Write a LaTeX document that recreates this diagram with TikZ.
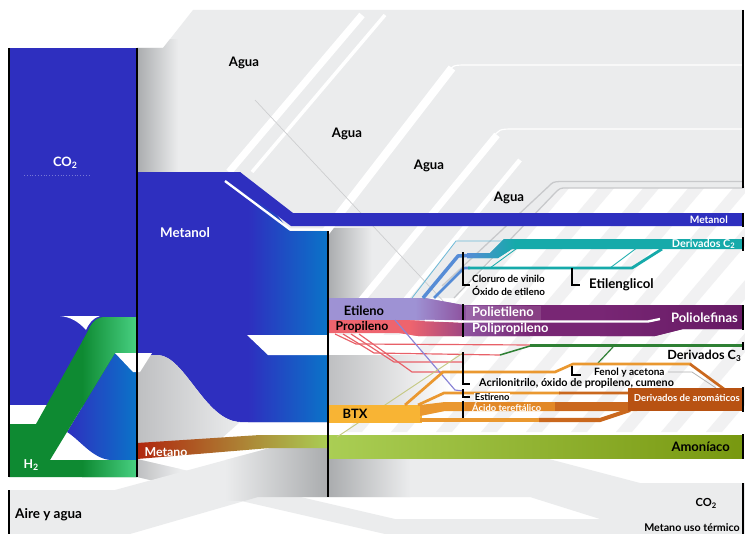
\documentclass[tikz,border=0pt]{standalone}
\usepackage{fontspec}
\setmainfont{Lato}
\definecolor{agua}{RGB}{235,236,237}
\definecolor{aguadk}{RGB}{170,172,174}
\definecolor{graymid}{RGB}{190,191,193}
\definecolor{faint}{RGB}{241,241,242}
\definecolor{dline}{RGB}{200,201,203}
\definecolor{thinline}{RGB}{205,206,208}
\definecolor{metblue}{RGB}{46,47,191}
\definecolor{metlight}{RGB}{10,116,200}
\definecolor{h2dk}{RGB}{14,138,50}
\definecolor{h2lt}{RGB}{72,208,130}
\definecolor{etil}{RGB}{158,146,212}
\definecolor{prop}{RGB}{238,100,110}
\definecolor{propend}{RGB}{160,70,130}
\definecolor{poli}{RGB}{120,38,116}
\definecolor{polidk}{RGB}{102,26,100}
\definecolor{polimid}{RGB}{142,84,160}
\definecolor{btx}{RGB}{248,180,52}
\definecolor{arom}{RGB}{184,82,18}
\definecolor{aromm}{RGB}{202,104,30}
\definecolor{aromlt}{RGB}{234,152,48}
\definecolor{acidbox}{RGB}{226,136,38}
\definecolor{amon}{RGB}{170,206,84}
\definecolor{amondk}{RGB}{120,152,16}
\definecolor{ctwoteal}{RGB}{22,170,170}
\definecolor{ctwoblue}{RGB}{86,140,214}
\definecolor{ctwothin}{RGB}{110,185,215}
\definecolor{cthree}{RGB}{46,128,52}
\definecolor{metred}{RGB}{176,38,14}
\definecolor{metmid}{RGB}{184,148,60}
\definecolor{redline}{RGB}{232,96,104}
\definecolor{lavline}{RGB}{138,132,214}
\definecolor{oliveline}{RGB}{196,200,128}

\newcommand{\fsz}[1]{\fontsize{#1}{#1}\selectfont\bfseries}
\newcommand{\lowidx}[2]{\raisebox{-0.35ex}{\fontsize{#1}{#1}\selectfont #2}}

\begin{document}
\begin{tikzpicture}[x=0.03cm,y=-0.03cm,
  bar/.style={line width=2pt,black},
  bracket/.style={line width=1.4pt,black},
  tx/.style={inner sep=0pt,text=black},
  wtx/.style={inner sep=0pt,text=white}]
\useasboundingbox (0,0) rectangle (745,534);
\fill[white] (0,0) rectangle (745,534);

% ---------- faint diagonal texture behind the product lines
\begin{scope}
  \clip (328,186) rectangle (745,432);
  \foreach \x in {330,375,...,960}
    \fill[faint] (\x,186) -- (\x+16,186) -- (\x-193,432) -- (\x-209,432) -- cycle;
\end{scope}

% ---------- water streams (upper grey field)
\def\aguapath{(137,48) -- (163,48) -- (193,10) -- (743,10) -- (743,188) -- (567,188) .. controls (560,188) .. (555,193) -- (454,298) -- (328,298) -- (328,231) -- (137,231) -- cycle}
\fill[agua] \aguapath;
\begin{scope}
  \clip \aguapath;
  \shade[left color=aguadk,right color=agua] (137,40) rectangle (178,235);
  \shade[left color=aguadk,right color=agua] (328,228) rectangle (372,300);
  \draw[white,line width=6pt] (229,172) -- (362,15);
  \draw[white,line width=3pt] (252,172) -- (385,15);
  \draw[white,line width=7pt] (300,265) -- (452,68);
  \draw[white,line width=1pt] (447,73) .. controls (453,65) .. (468,65) -- (745,65);
  \draw[white,line width=6pt] (360,302) -- (497,135);
  \draw[white,line width=1pt] (492,139) .. controls (499,129) .. (515,129) -- (745,129);
  \draw[white,line width=4pt] (405,300) -- (520,160);
\end{scope}
\draw[dline,line width=1.1pt] (442,286) -- (549,186) .. controls (553,182) .. (560,181.5) -- (743,181.5);
\draw[dline,line width=1.1pt] (454,298) -- (555,193) .. controls (560,188) .. (567,188) -- (743,188);
\draw[thinline,line width=0.6pt] (255,100) -- (475,335);

% ---------- lower grey streams
\def\termpath{(137,459) -- (395,519) -- (745,519) -- (745,534) -- (385,534) -- (137,477) -- cycle}
\fill[agua] \termpath;
\begin{scope}
  \clip \termpath;
  \shade[left color=graymid,right color=agua] (137,455) rectangle (180,480);
\end{scope}
\def\airepath{(9,490) -- (115,490) -- (270,448) -- (328,448) -- (328,497) -- (258,497) -- (130,534) -- (9,534) -- cycle}
\fill[agua] \airepath;
\begin{scope}
  \clip \airepath;
  \shade[left color=agua,right color=aguadk] (225,445) rectangle (328,500);
\end{scope}
\def\cotwopath{(328,458) -- (545,458) -- (640,483) -- (745,483) -- (745,519) -- (600,519) -- (530,497) -- (328,497) -- cycle}
\fill[agua] \cotwopath;
\begin{scope}
  \clip \cotwopath;
  \shade[left color=aguadk,right color=agua] (328,455) rectangle (410,500);
\end{scope}

% ---------- methanol block and outlet
\def\blockpath{(137,172) -- (240,172) -- (290,231) -- (328,231) -- (328,422) -- (240,422) .. controls (205,421) and (185,356) .. (158,355) -- (137,355) -- cycle}
\fill[metblue] \blockpath;
\begin{scope}
  \clip \blockpath;
  \shade[left color=metblue,right color=metlight] (248,170) rectangle (328,425);
\end{scope}
\shade[left color=graymid,right color=agua] (137,355) -- (158,355) .. controls (185,356) and (205,421) .. (240,422) -- (222,438) -- (137,444) -- cycle;
\fill[white] (247,335) -- (420,335) -- (420,355) -- (268,355) -- cycle;
\shade[left color=graymid,right color=white] (328,355) rectangle (450,405);
\draw[white,line width=2pt] (225,181) -- (290,229.5) -- (328,229.5);
\fill[metblue] (137,172) -- (240,172) -- (293,213) -- (743,213) -- (743,226) -- (291,226) -- (224,176) -- (137,176) -- cycle;

% ---------- methane and ammonia
\shade[left color=metred,middle color=metmid,right color=amon] (137,443) -- (260,435) -- (328,435) -- (328,448) -- (270,448) -- (137,459) -- cycle;
\shade[left color=amon,right color=amondk] (328,435) rectangle (743,458);

% ---------- CO2 and H2 inputs
\fill[metblue] (9,48) rectangle (137,405);
\draw[metblue!65!white,dotted,line width=0.4pt] (24,175) -- (90,175);
\shade[left color=metblue,right color=metlight] (115,353) -- (137,353) -- (137,460) -- (110,460) .. controls (92,458) and (80,440) .. (67,432) -- cycle;
\def\htwopath{(9,424) -- (36,424) -- (87,333) .. controls (92,322) and (96,317) .. (106,317) -- (137,317) -- (137,353) -- (115,353) -- (50,460) -- (137,460) -- (137,477) -- (9,477) -- cycle}
\fill[h2dk] \htwopath;
\begin{scope}
  \clip \htwopath;
  \shade[left color=h2dk,right color=h2lt] (82,300) rectangle (137,480);
\end{scope}
\fill[white] (60,316) -- (100,316) .. controls (93,318) and (89,323) .. (86,330) .. controls (78,321) and (70,317) .. (60,316) -- cycle;
\fill[white] (115,353) -- (152,353) -- (140,372) -- (133,372) -- cycle;

% ---------- ethylene, propylene and polyolefins
\def\etilpath{(328,298) -- (425,298) -- (463,305) -- (463,320) -- (328,320) -- cycle}
\fill[etil] \etilpath;
\begin{scope}
  \clip \etilpath;
  \shade[left color=etil,right color=polimid] (415,295) rectangle (463,322);
\end{scope}
\def\proppath{(328,320) -- (405,320) -- (463,323) -- (463,336) -- (418,336) -- (398,333) -- (328,333) -- cycle}
\fill[prop] \proppath;
\begin{scope}
  \clip \proppath;
  \shade[left color=prop,right color=propend] (410,318) rectangle (463,338);
\end{scope}
\draw[white,line width=1.3pt] (425,320.5) -- (463,321.5);
\def\polipath{(463,305) -- (743,305) -- (743,329) -- (683,329) -- (655,336) -- (463,336) -- cycle}
\fill[poli] \polipath;
\begin{scope}
  \clip \polipath;
  \shade[left color=polimid,right color=poli] (463,300) rectangle (530,340);
  \shade[left color=poli,right color=polidk] (600,300) rectangle (743,340);
\end{scope}
\draw[white,line width=2pt] (463,321.5) -- (648,321.5) -- (660,319);
\fill[white,opacity=0.12] (466,306) rectangle (541,320);

% ---------- C2 derivatives
\draw[ctwothin,line width=0.7pt] (412,298) -- (456,241) -- (506,241);
\draw[ctwoblue,line width=3pt] (423,298) -- (458,256) -- (470,255.5);
\draw[ctwoblue,line width=2.4pt] (434,298) -- (464,268) -- (470,268);
\def\ctwopath{(467,253) -- (490,253) -- (504,239) -- (743,239) -- (743,249) -- (512,249) -- (498,258) -- (467,258) -- cycle}
\fill[ctwoteal] \ctwopath;
\begin{scope}
  \clip \ctwopath;
  \shade[left color=ctwoblue,right color=ctwoteal] (467,235) rectangle (515,260);
\end{scope}
\draw[ctwoteal,line width=2.4pt] (468,268) -- (632,268) -- (662,249);
\draw[ctwoteal,line width=0.7pt] (490,268) -- (520,246);
\draw[ctwoteal,line width=0.7pt] (610,268) -- (638,247);

% ---------- propylene branches and C3 derivatives
\draw[redline,line width=1pt] (335,334) -- (356,344) -- (532,345);
\draw[redline,line width=1pt] (343,334) -- (374,353) -- (500,355);
\draw[redline,line width=1pt] (351,334) -- (394,362) -- (463,362);
\draw[redline,line width=1pt] (359,334) -- (412,372) -- (463,372);
\draw[cthree,line width=1.3pt] (500,355) -- (530,346);
\draw[cthree,line width=1pt] (598,363) -- (613,347);
\draw[cthree,line width=2.5pt] (530,345.5) -- (743,345.5);
\draw[lavline,line width=1pt] (395,320) -- (455,390) -- (463,391);
\draw[oliveline,line width=0.8pt] (337,437) -- (463,353);

% ---------- aromatics
\fill[btx] (328,405) rectangle (422,423);
\fill[aromlt] (420,405) -- (445,402) -- (637,402) -- (637,411) -- (445,411) -- (420,416) -- cycle;
\fill[acidbox] (465,402) rectangle (555,411);
\fill[aromm] (555,402) rectangle (637,411);
\draw[aromlt,line width=3.5pt] (420,420) -- (540,420);
\draw[aromm,line width=3.5pt] (539,420) -- (600,420) -- (630,410);
\draw[aromlt,line width=2.3pt] (418,405) -- (444,393) -- (560,393);
\draw[aromm,line width=2.3pt] (559,393) -- (640,393) -- (650,389);
\draw[aromlt,line width=2.3pt] (405,405) -- (443,372) -- (555,372) -- (573,364) -- (691,364);
\draw[aromm,line width=2.3pt] (690,364) -- (724,389);
\draw[gray!60,line width=0.6pt] (668,372) -- (692,372) -- (716,388);
\fill[arom] (628,388) rectangle (743,411);

% ---------- node bars
\draw[bar] (9,48) -- (9,477);
\draw[bar] (9,490) -- (9,534);
\draw[bar] (137,48) -- (137,477);
\draw[bar] (328,231) -- (328,497);
\draw[bar] (743,10) -- (743,188);
\draw[bar] (743,213) -- (743,227);
\draw[bar] (743,237) -- (743,251);
\draw[bar] (743,305) -- (743,330);
\draw[bar] (743,342) -- (743,350);
\draw[bar] (743,387) -- (743,412);
\draw[bar] (743,434) -- (743,459);
\draw[bar] (743,483) -- (743,534);
\draw[bar] (463,304) -- (463,320);
\draw[bar] (463,323) -- (463,337);
\draw[bar] (463,401) -- (463,418);
\draw[bracket] (463,252) -- (463,285) -- (470,285);
\draw[bracket] (572,268) -- (572,285) -- (580,285);
\draw[bracket] (463,352) -- (463,384) -- (470,384);
\draw[bracket] (572,366) -- (572,375) -- (581,375);
\draw[bracket] (463,389) -- (463,397) -- (470,397);

% ---------- labels
\node[tx,font=\fsz{11.2}] (agua1) at (244,63) {Agua};
\node[tx,font=\fsz{11.2}] (agua2) at (347,134) {Agua};
\node[tx,font=\fsz{11.2}] (agua3) at (429,166) {Agua};
\node[tx,font=\fsz{11.2}] (agua4) at (509,198) {Agua};
\node[wtx,font=\fsz{11}] (co2in) at (65,163) {CO\lowidx{7.5}{2}};
\node[wtx,font=\fsz{11.4}] (metanol) at (185,233) {Metanol};
\node[wtx,font=\fsz{10.5}] (h2) at (31,465) {H\lowidx{7.5}{2}};
\node[wtx,font=\fsz{10.5}] (metano) at (166,452) {Metano};
\node[tx,font=\fsz{11.5},anchor=west] (aire) at (15,515) {Aire y agua};
\node[tx,font=\fsz{11}] (etileno) at (364,311) {Etileno};
\node[tx,font=\fsz{10.5}] (propileno) at (362,327) {Propileno};
\node[tx,font=\fsz{11}] (btx) at (355,414) {BTX};
\node[wtx,font=\fsz{8.7},anchor=east] (metout) at (728,220) {Metanol};
\node[wtx,font=\fsz{9.2},anchor=east] (c2) at (735,244) {Derivados C\lowidx{6.5}{2}};
\node[tx,font=\fsz{8.4},anchor=west] (cloruro) at (472,279) {Cloruro de vinilo};
\node[tx,font=\fsz{8.4},anchor=west] (oxido) at (472,291) {Óxido de etileno};
\node[tx,font=\fsz{11.3},anchor=west] (glicol) at (589,285) {Etilenglicol};
\node[wtx,font=\fsz{11},anchor=west] (pe) at (472,312) {Polietileno};
\node[wtx,font=\fsz{11},anchor=west] (pp) at (472,329) {Polipropileno};
\node[wtx,font=\fsz{11.1},anchor=east] (poliol) at (738,318) {Poliolefinas};
\node[tx,font=\fsz{10.8},anchor=east] (c3) at (741,356) {Derivados C\lowidx{7}{3}};
\node[tx,font=\fsz{8.6},anchor=west] (fenol) at (594,373) {Fenol y acetona};
\node[tx,font=\fsz{9.2},anchor=west] (acril) at (479,383) {Acrilonitrilo, óxido de propileno, cumeno};
\node[tx,font=\fsz{8},anchor=west,fill=white,inner sep=0.6pt] (estireno) at (474,397) {Estireno};
\node[wtx,font=\fsz{8},anchor=west] (acido) at (472,407) {Ácido tereftálico};
\node[wtx,font=\fsz{8.2},anchor=east] (aromlbl) at (740,398) {Derivados de aromáticos};
\node[tx,font=\fsz{11.1},anchor=east] (amon) at (730,447) {Amoníaco};
\node[tx,font=\fsz{9.5}] (co2out) at (706,503) {CO\lowidx{6.5}{2}};
\node[tx,font=\fsz{9.1},anchor=east] (termico) at (740,528) {Metano uso térmico};
\end{tikzpicture}
\end{document}
